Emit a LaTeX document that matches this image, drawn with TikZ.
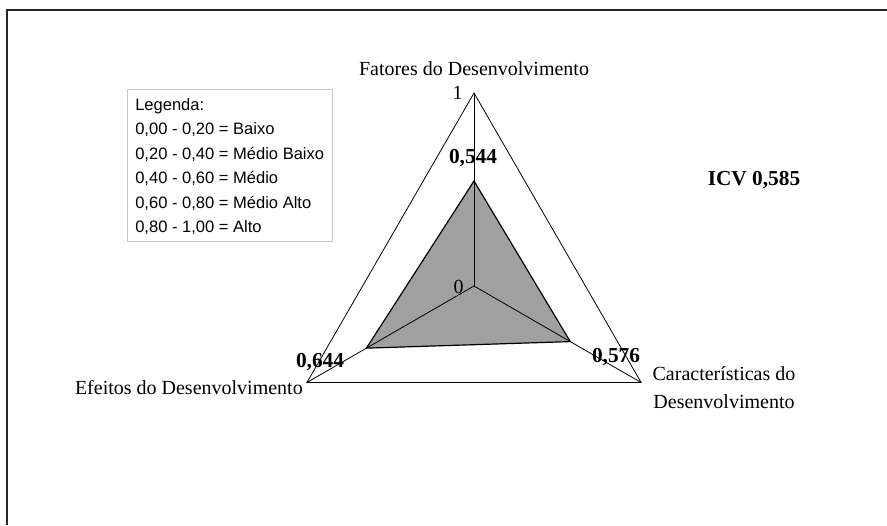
\documentclass[tikz,border=0pt]{standalone}
\usepackage{fontspec}
\setmainfont{Liberation Serif}
\setsansfont{Liberation Sans}
\usepackage{tikz}
\usetikzlibrary{calc}

\definecolor{area}{RGB}{160,160,160}
\definecolor{legborda}{RGB}{200,200,200}

\tikzset{
  eixo/.style={black, line width=0.6pt},
  rotulo/.style={font=\fontsize{15}{21}\selectfont, inner sep=0pt},
  valor/.style={font=\fontsize{16}{19}\selectfont\bfseries, inner sep=0pt},
  legtxt/.style={font=\sffamily\fontsize{12.4}{15}\selectfont, inner sep=0pt, anchor=base west},
}

\begin{document}
\begin{tikzpicture}[x=0.75pt,y=-0.75pt]
  \useasboundingbox (0,0) rectangle (887,525);

  % frame (only top and left edge show)
  \draw[line width=1.5pt, black!85] (7,525) -- (7,10) -- (887,10);

  % centre and ends of the three axes
  \coordinate (O) at (474,286);
  \coordinate (F) at (474,93);
  \coordinate (E) at (306.9,382.5);
  \coordinate (C) at (641.1,382.5);

  % values
  \coordinate (vF) at ($(O)!0.544!(F)$);
  \coordinate (vE) at ($(O)!0.644!(E)$);
  \coordinate (vC) at ($(O)!0.576!(C)$);

  % filled area
  \filldraw[fill=area, draw=black, line width=0.9pt] (vF) -- (vC) -- (vE) -- cycle;

  % outer triangle and axes
  \draw[eixo] (F) -- (C) -- (E) -- cycle;
  \draw[eixo] (O) -- (F);
  \draw[eixo] (O) -- (E);
  \draw[eixo] (O) -- (C);

  % scale
  \node[rotulo, anchor=base east] (um) at (463,99) {1};
  \node[rotulo, anchor=base east] (zero) at (464,293) {0};

  % axis labels
  \node[rotulo, anchor=base] (tF) at (474,75) {Fatores do Desenvolvimento};
  \node[rotulo, anchor=base east] (tE) at (303,394) {Efeitos do Desenvolvimento};
  \node[rotulo, anchor=base, align=center] (tC) at (724,408) {Caracter\'isticas do\\Desenvolvimento};

  % values
  \node[valor, anchor=base] (nF) at (473,163) {0,544};
  \node[valor, anchor=base] (nE) at (320,367) {0,644};
  \node[valor, anchor=base] (nC) at (616,362) {0,576};
  \node[valor, anchor=base] (icv) at (754,185) {ICV 0,585};

  % legend
  \node[draw=legborda, line width=0.8pt, anchor=north west,
        minimum width=153.75pt, minimum height=114pt] (legbox) at (127,89) {};
  \foreach \t [count=\i from 0] in {Legenda:, {0,00 - 0,20 = Baixo},
      {0,20 - 0,40 = M\'edio Baixo}, {0,40 - 0,60 = M\'edio},
      {0,60 - 0,80 = M\'edio Alto}, {0,80 - 1,00 = Alto}}
    \node[legtxt] (leg\i) at (135,{110+24.5*\i}) {\t};

\end{tikzpicture}
\end{document}
